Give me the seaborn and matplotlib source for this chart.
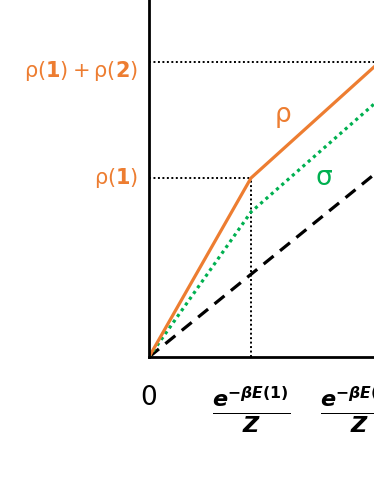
import matplotlib
matplotlib.use("Agg")
import matplotlib.pyplot as plt
import seaborn as sns
import pandas as pd

# DATA
# x in units of e^{-beta E(1)}/Z, y in units of rho(1)
x_breaks = [0, 1, 2.26]
rho_vals = [0, 1, 1.648]
sigma_vals = [0, 0.81, 1.44]
uniform_x = [0, 2.26]
uniform_vals = [0, 1.044]
rho_levels = [1, 1.648]
rho_labels = [r"$\mathrm{\rho}(\mathbf{1})$",
              r"$\mathrm{\rho}(\mathbf{1})+\mathrm{\rho}(\mathbf{2})$"]
x_ticks = [0, 1, 2.06]
x_labels = ["0",
            r"$\frac{\mathbfit{e}^{\mathbfit{-\beta E}\mathbf{(1)}}}{\mathbfit{Z}}$",
            r"$\frac{\mathbfit{e}^{\mathbfit{-\beta E}\mathbf{(2)}}}{\mathbfit{Z}}$"]

orange = "#ED7D31"
green = "#00B050"

sns.set_style("white")
plt.rcParams["mathtext.fontset"] = "dejavusans"
plt.rcParams["font.family"] = ["DejaVu Sans"]

fig = plt.figure(figsize=(3.74, 4.84), dpi=100)
ax = fig.add_axes([149 / 374, 127 / 484, 225 / 374, 357 / 484])

df_rho = pd.DataFrame({"x": x_breaks, "y": rho_vals})
df_sigma = pd.DataFrame({"x": x_breaks, "y": sigma_vals})
df_uni = pd.DataFrame({"x": uniform_x, "y": uniform_vals})

# reference dotted lines
ax.plot([0, 2.5], [rho_levels[1]] * 2, color="black", lw=1.4, linestyle=(0, (1, 1.3)))
ax.plot([0, x_breaks[1]], [rho_levels[0]] * 2, color="black", lw=1.4, linestyle=(0, (1, 1.3)))
ax.plot([x_breaks[1]] * 2, [0, rho_levels[0]], color="black", lw=1.4, linestyle=(0, (1, 1.3)))

sns.lineplot(data=df_uni, x="x", y="y", ax=ax, color="black", lw=2.3,
             linestyle=(0, (4, 2.6)), sort=False)
sns.lineplot(data=df_sigma, x="x", y="y", ax=ax, color=green, lw=2.3,
             linestyle=(0, (1, 1.2)), sort=False)
sns.lineplot(data=df_rho, x="x", y="y", ax=ax, color=orange, lw=2.3, sort=False)

ax.text(1.31, 1.34, r"$\mathrm{\rho}$", color=orange, fontsize=19, ha="center", va="center")
ax.text(1.72, 1.0, r"$\mathrm{\sigma}$", color=green, fontsize=19, ha="center", va="center")

ax.set_xlim(0, 225 / 102)
ax.set_ylim(0, 357 / 179)
ax.set_xlabel("")
ax.set_ylabel("")

# y labels as text so the upper one can sit slightly below its line
ax.set_yticks([])
ax.text(-0.11, rho_levels[0], rho_labels[0], color=orange, fontsize=15,
        ha="right", va="center", clip_on=False)
ax.text(-0.11, rho_levels[1] - 0.05, rho_labels[1], color=orange, fontsize=15,
        ha="right", va="center", clip_on=False)

ax.set_xticks(x_ticks)
ax.set_xticklabels(x_labels, fontsize=23, color="black")
ax.get_xticklabels()[0].set_fontsize(19)
ax.tick_params(axis="both", length=0)
ax.tick_params(axis="x", pad=20)

for side in ["top", "right"]:
    ax.spines[side].set_visible(False)
for side in ["left", "bottom"]:
    ax.spines[side].set_color("black")
    ax.spines[side].set_linewidth(2)

fig.savefig("out.png", dpi=100)
